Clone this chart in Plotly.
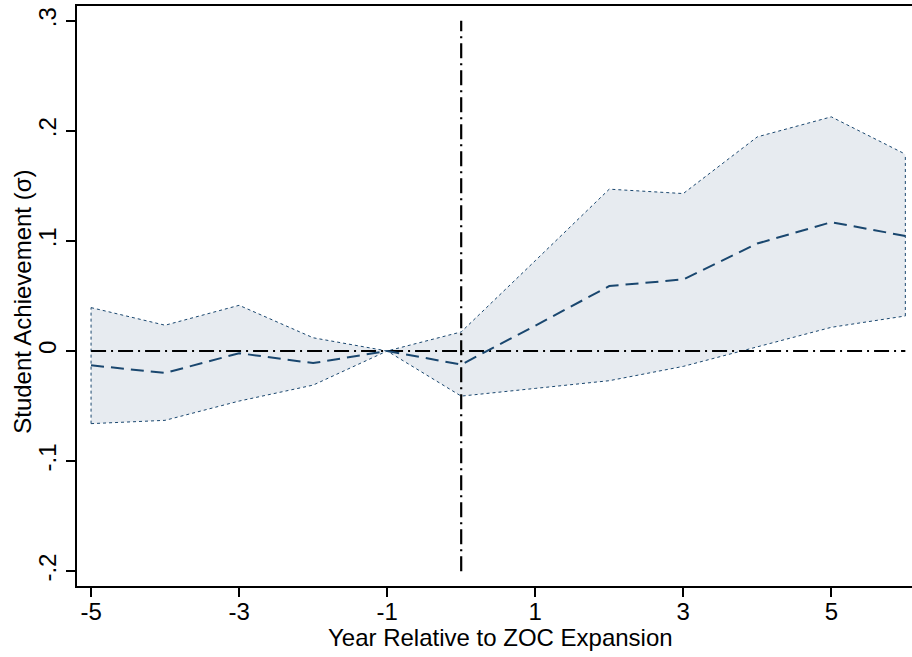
import plotly.graph_objects as go

years = [-5, -4, -3, -2, -1, 0, 1, 2, 3, 4, 5, 6]
coef = [-0.013, -0.020, -0.002, -0.011, 0.0, -0.0124, 0.023, 0.059, 0.065, 0.0976, 0.117, 0.1045]
upper = [0.0394, 0.0234, 0.0415, 0.0120, 0.0, 0.0173, 0.082, 0.147, 0.143, 0.1945, 0.2127, 0.1788]
lower = [-0.066, -0.063, -0.0455, -0.031, 0.0, -0.041, -0.034, -0.027, -0.014, 0.004, 0.0215, 0.0318]

xticks = [-5, -3, -1, 1, 3, 5]
yticks = [-0.2, -0.1, 0, 0.1, 0.2, 0.3]
ytick_labels = ["-.2", "-.1", "0", ".1", ".2", ".3"]
x_title = "Year Relative to ZOC Expansion"
y_title = "Student Achievement (σ)"

navy = "#1a476f"
fill = "#e7ebf0"
font = "Liberation Sans, Arial, Helvetica, sans-serif"

fig = go.Figure()

# CI band
fig.add_trace(go.Scatter(x=years, y=lower, mode="lines",
                         line=dict(color=navy, width=1, dash="dot"),
                         hoverinfo="skip", showlegend=False))
fig.add_trace(go.Scatter(x=years, y=upper, mode="lines", fill="tonexty",
                         fillcolor=fill,
                         line=dict(color=navy, width=1, dash="dot"),
                         hoverinfo="skip", showlegend=False))
fig.add_trace(go.Scatter(x=[years[0], years[0]], y=[lower[0], upper[0]], mode="lines",
                         line=dict(color=navy, width=1, dash="dot"),
                         hoverinfo="skip", showlegend=False))
fig.add_trace(go.Scatter(x=[years[-1], years[-1]], y=[lower[-1], upper[-1]], mode="lines",
                         line=dict(color=navy, width=1, dash="dot"),
                         hoverinfo="skip", showlegend=False))

# reference lines
refdash = "15px,5px,2px,5px"
fig.add_trace(go.Scatter(x=[years[0], years[-1]], y=[0, 0], mode="lines",
                         line=dict(color="black", width=2.2, dash=refdash),
                         hoverinfo="skip", showlegend=False))
fig.add_trace(go.Scatter(x=[0, 0], y=[yticks[0], yticks[-1]], mode="lines",
                         line=dict(color="black", width=2.2, dash=refdash),
                         hoverinfo="skip", showlegend=False))

# point estimates
fig.add_trace(go.Scatter(x=years, y=coef, mode="lines",
                         line=dict(color=navy, width=2, dash="13px,7px"),
                         showlegend=False))

fig.update_layout(
    width=912, height=657,
    margin=dict(l=77, r=0, t=6, b=71),
    paper_bgcolor="white", plot_bgcolor="white",
    font=dict(family=font, size=24, color="black"),
    xaxis=dict(
        range=[-5.19, 6.09], tickvals=xticks, ticktext=[str(v) for v in xticks],
        showgrid=False, zeroline=False, showline=True, linecolor="black", linewidth=2,
        mirror=True, ticks="outside", ticklen=9, tickwidth=1.5, tickcolor="black",
        tickfont=dict(size=24), ticklabelstandoff=-6,
    ),
    yaxis=dict(
        range=[-0.2135, 0.3134], tickvals=yticks, ticktext=ytick_labels,
        showgrid=False, zeroline=False, showline=True, linecolor="black", linewidth=2,
        ticks="outside", ticklen=9, tickwidth=1.5, tickcolor="black",
        tickangle=-90, tickfont=dict(size=24),
    ),
    annotations=[
        dict(text=x_title, xref="paper", yref="paper", x=0.5066, y=-0.088,
             xanchor="center", yanchor="middle", showarrow=False,
             font=dict(size=24, family=font, color="black")),
        dict(text=y_title, xref="paper", yref="paper", x=-0.0647, y=0.49,
             xanchor="center", yanchor="middle", textangle=-90, showarrow=False,
             font=dict(size=24, family=font, color="black")),
    ],
)

fig.write_html("out.html", config={"displayModeBar": False},
               post_script="document.body.style.margin='0px';")
